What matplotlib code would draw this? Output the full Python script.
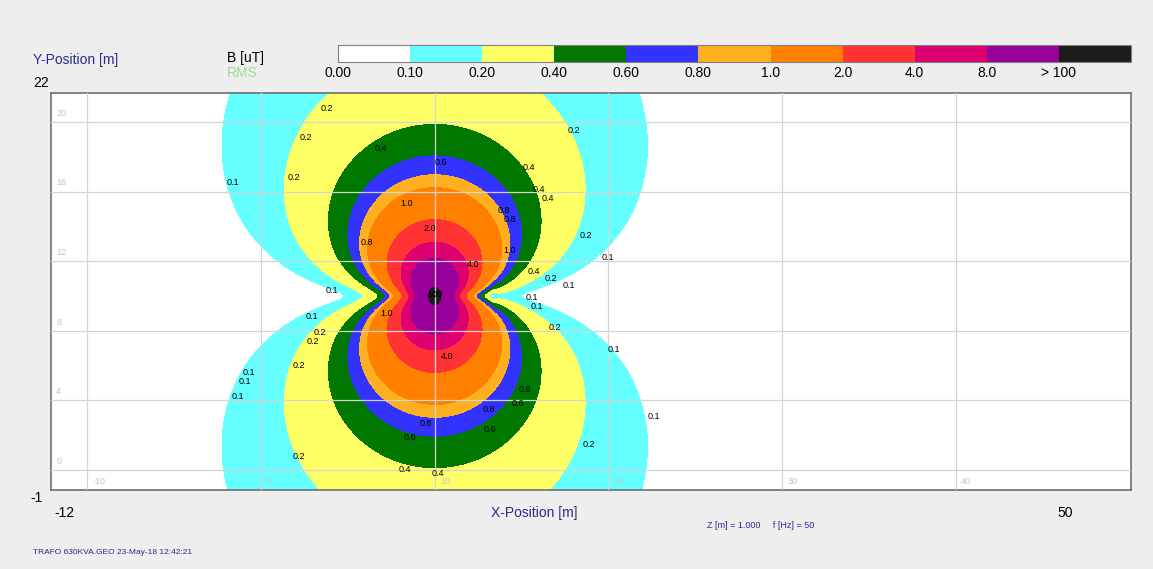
import matplotlib.pyplot as plt
import numpy as np

plt.rcParams['font.family'] = ['Liberation Sans', 'DejaVu Sans']

# field bands [uT] and their colours
levels = [0, 0.1, 0.2, 0.4, 0.6, 0.8, 1.0, 2.0, 4.0, 8.0, 100, 1e6]
band_colors = ['#ffffff', '#66ffff', '#ffff66', '#007800', '#3333ff', '#ffb020',
               '#ff8000', '#ff3333', '#dd0070', '#990099', '#1c1c1c']
bar_labels = ['0.00', '0.10', '0.20', '0.40', '0.60', '0.80', '1.0', '2.0',
              '4.0', '8.0', '> 100']

x_ticks = [-10, 0, 10, 20, 30, 40]
y_ticks = [0, 4, 8, 12, 16, 20]

# transformer source, values
src_x, src_y = 10.0, 10.0
src_moment = 39.0     # B ~ moment / r^2 along the y axis
src_core = 0.15       # core size (m^2)
src_side = 0.38       # sideways leakage
null_dx = 3.35        # field null right of the source
null_w = 0.3

# contour labels as printed on the map
lab_x = [3.8, 2.6, 6.9, 10.35, 18.0, -1.6, 1.9, 15.4, 16.0, 16.5, 8.4, 14.0, 14.3,
         9.7, 6.1, 18.7, 14.3, 20.0, 12.2, 15.7, 16.7, 17.7, 4.1, 15.6, 15.9, 7.2,
         2.9, 16.9, 3.4, 3.0, 20.3, 10.7, 2.2, -0.7, -0.95, -1.35, 15.2, 14.8, 13.1,
         22.6, 9.5, 13.2, 8.6, 18.9, 2.2, 8.3, 10.2, 10.0]
lab_y = [20.8, 19.1, 18.5, 17.7, 19.5, 16.5, 16.8, 17.4, 16.15, 15.6, 15.3, 14.9, 14.4,
         13.9, 13.1, 13.5, 12.6, 12.2, 11.8, 11.4, 11.0, 10.6, 10.3, 9.9, 9.4, 9.0,
         8.8, 8.2, 7.9, 7.4, 6.95, 6.5, 6.0, 5.6, 5.1, 4.25, 4.65, 3.8, 3.45,
         3.05, 2.7, 2.3, 1.85, 1.45, 0.75, 0.05, -0.2, 10.1]
lab_txt = ['0.2', '0.2', '0.4', '0.6', '0.2', '0.1', '0.2', '0.4', '0.4', '0.4', '1.0', '0.8', '0.8',
           '2.0', '0.8', '0.2', '1.0', '0.1', '4.0', '0.4', '0.2', '0.1', '0.1', '0.1', '0.1', '1.0',
           '0.1', '0.2', '0.2', '0.2', '0.1', '4.0', '0.2', '0.1', '0.1', '0.1', '0.6', '0.6', '0.8',
           '0.1', '0.8', '0.6', '0.6', '0.2', '0.2', '0.4', '0.4', '100']

W, H = 1153, 569
fig = plt.figure(figsize=(W / 100, H / 100), dpi=100, facecolor='#eeeeee')
ax = fig.add_axes([51 / W, 1 - 490 / H, 1080 / W, 397 / H])

xs = np.linspace(-12.1, 50.1, 1400)
ys = np.linspace(-1.15, 21.67, 520)
X, Y = np.meshgrid(xs, ys)
dx = X - src_x
dy = Y - src_y
side = src_side * (null_dx - dx) / (np.abs(null_dx - dx) + null_w)
B = src_moment * np.hypot(dy, side) / (dx**2 + dy**2 + src_core) ** 1.5

cs = ax.contourf(X, Y, B, levels=levels, colors=band_colors)
ax.set_xlim(-12.1, 50.1)
ax.set_ylim(-1.15, 21.67)

ax.set_xticks(x_ticks)
ax.set_yticks(y_ticks)
ax.set_axisbelow(False)
ax.grid(color='#d4d4d4', lw=0.9)
ax.tick_params(length=0, labelbottom=False, labelleft=False)
for s in ax.spines.values():
    s.set_color('#6e6e6e')
    s.set_linewidth(1.2)

for v in x_ticks:
    ax.text(v + 0.3, -0.65, str(v), fontsize=6.5, color='#c4c4c4', va='center')
for v in y_ticks:
    ax.text(-11.8, v + 0.5, str(v), fontsize=6.5, color='#c4c4c4', va='center')

for x, y, t in zip(lab_x, lab_y, lab_txt):
    ax.text(x, y, t, fontsize=6.5, ha='center', va='center', color='black')

# colour bar
cax = fig.add_axes([338 / W, 1 - 62 / H, 793 / W, 17 / H])
cb = fig.colorbar(cs, cax=cax, orientation='horizontal', spacing='uniform',
                  ticks=levels[:-1])
cb.set_ticklabels(bar_labels)
cb.ax.tick_params(length=0, labelsize=10, pad=3)
cb.outline.set_edgecolor('#808080')

blue = '#2a2a90'
fig.text(33 / W, 1 - 60 / H, 'Y-Position [m]', fontsize=10, color=blue, va='center')
fig.text(33 / W, 1 - 83 / H, '22', fontsize=10, color='black', va='center')
fig.text(227 / W, 1 - 58 / H, 'B [uT]', fontsize=10, color='black', va='center')
fig.text(227 / W, 1 - 73 / H, 'RMS', fontsize=10, color='#99dd99', va='center')
fig.text(30 / W, 1 - 498 / H, '-1', fontsize=10, color='black', va='center')
fig.text(54 / W, 1 - 513 / H, '-12', fontsize=10, color='black', va='center')
fig.text(1057 / W, 1 - 513 / H, '50', fontsize=10, color='black', va='center')
fig.text(534 / W, 1 - 513 / H, 'X-Position [m]', fontsize=10, color=blue,
         va='center', ha='center')
fig.text(707 / W, 1 - 526 / H, 'Z [m] = 1.000     f [Hz] = 50', fontsize=6.5,
         color=blue, va='center')
fig.text(33 / W, 1 - 552 / H, 'TRAFO 630KVA.GEO 23-May-18 12:42:21', fontsize=6,
         color=blue, va='center')

fig.savefig('out.png', dpi=100, facecolor=fig.get_facecolor())
